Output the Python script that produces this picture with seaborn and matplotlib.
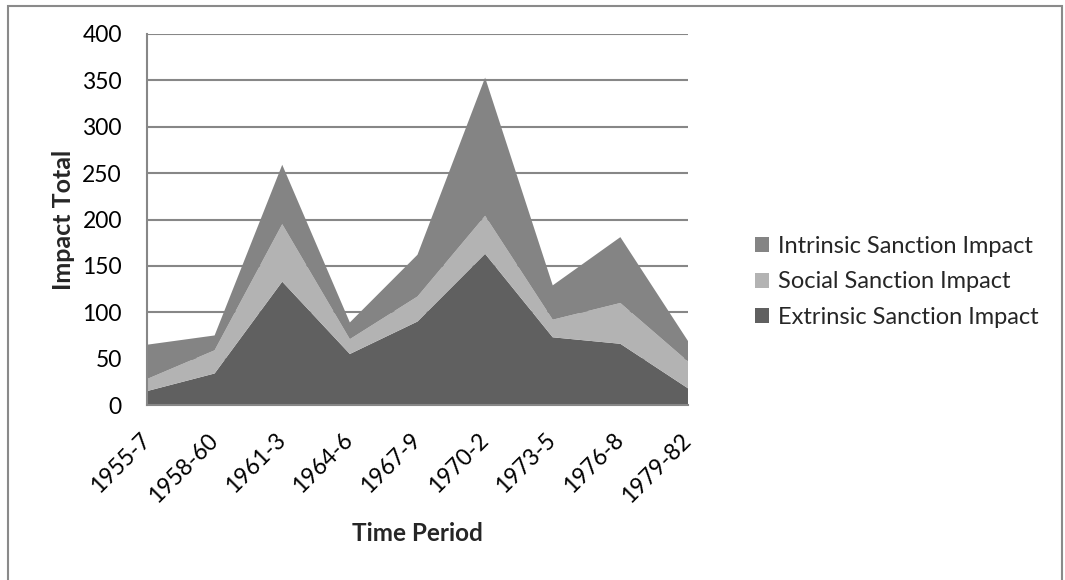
import pandas as pd
import seaborn as sns
import matplotlib.pyplot as plt
from matplotlib.patches import Rectangle

# dados
periods = ['1955-7', '1958-60', '1961-3', '1964-6', '1967-9', '1970-2', '1973-5', '1976-8', '1979-82']
extrinsic = [15, 34, 133, 55, 90, 163, 73, 66, 18]
social = [13, 25, 62, 16, 27, 41, 19, 44, 29]
intrinsic = [37, 16, 64, 18, 45, 149, 37, 71, 22]

df = pd.DataFrame({'Period': periods,
                   'Extrinsic Sanction Impact': extrinsic,
                   'Social Sanction Impact': social,
                   'Intrinsic Sanction Impact': intrinsic})

sns.set_style('white')
plt.rcParams['font.family'] = ['Lato', 'DejaVu Sans']

fig = plt.figure(figsize=(10.65, 5.8), dpi=100)
ax = fig.add_axes([0.138, 0.3017, 0.508, 0.6397])

colors = ['#606060', '#b3b3b3', '#848484']
series = ['Extrinsic Sanction Impact', 'Social Sanction Impact', 'Intrinsic Sanction Impact']
x = list(range(len(periods)))
ax.stackplot(x, *[df[s] for s in series], colors=colors, labels=series,
             linewidth=0, edgecolor='none', zorder=2)

# grade horizontal
ax.set_ylim(0, 400)
ax.set_xlim(0, len(periods) - 1)
ax.set_yticks(range(0, 401, 50))
ax.yaxis.grid(True, color='#878787', linewidth=1.5, zorder=0)
ax.set_axisbelow(True)
ax.set_xticks(x)
ax.set_xticklabels(periods, rotation=45, ha='right', va='center', rotation_mode='anchor')

for side in ['top', 'right']:
    ax.spines[side].set_visible(False)
for side in ['left', 'bottom']:
    ax.spines[side].set_color('#878787')
    ax.spines[side].set_linewidth(1.5)
    ax.spines[side].set_zorder(3)

ax.tick_params(axis='both', direction='out', length=9, width=1.5, color='#878787',
               labelsize=16.5, labelcolor='black')
ax.tick_params(axis='y', pad=9)
ax.tick_params(axis='x', pad=14)

ax.set_xlabel('Time Period', fontsize=17.5, fontweight='bold', va='center')
ax.set_ylabel('Impact Total', fontsize=18, fontweight='bold', va='center')
ax.xaxis.set_label_coords(0.5, -0.345)
ax.yaxis.set_label_coords(-0.155, 0.5)

# legenda na ordem inversa
handles, labels = ax.get_legend_handles_labels()
fig.legend(handles[::-1], labels[::-1], loc='center left', bbox_to_anchor=(0.709, 0.514),
           frameon=False, fontsize=17, handlelength=0.6, handleheight=0.6,
           handletextpad=0.38, labelspacing=0.62, borderpad=0, borderaxespad=0)

# moldura do gráfico
fig.patches.append(Rectangle((0.0075, -0.05), 0.9895, 1.04, transform=fig.transFigure,
                             fill=False, edgecolor='#8a8a8a', linewidth=1.5))

plt.savefig('out.png', dpi=100)
